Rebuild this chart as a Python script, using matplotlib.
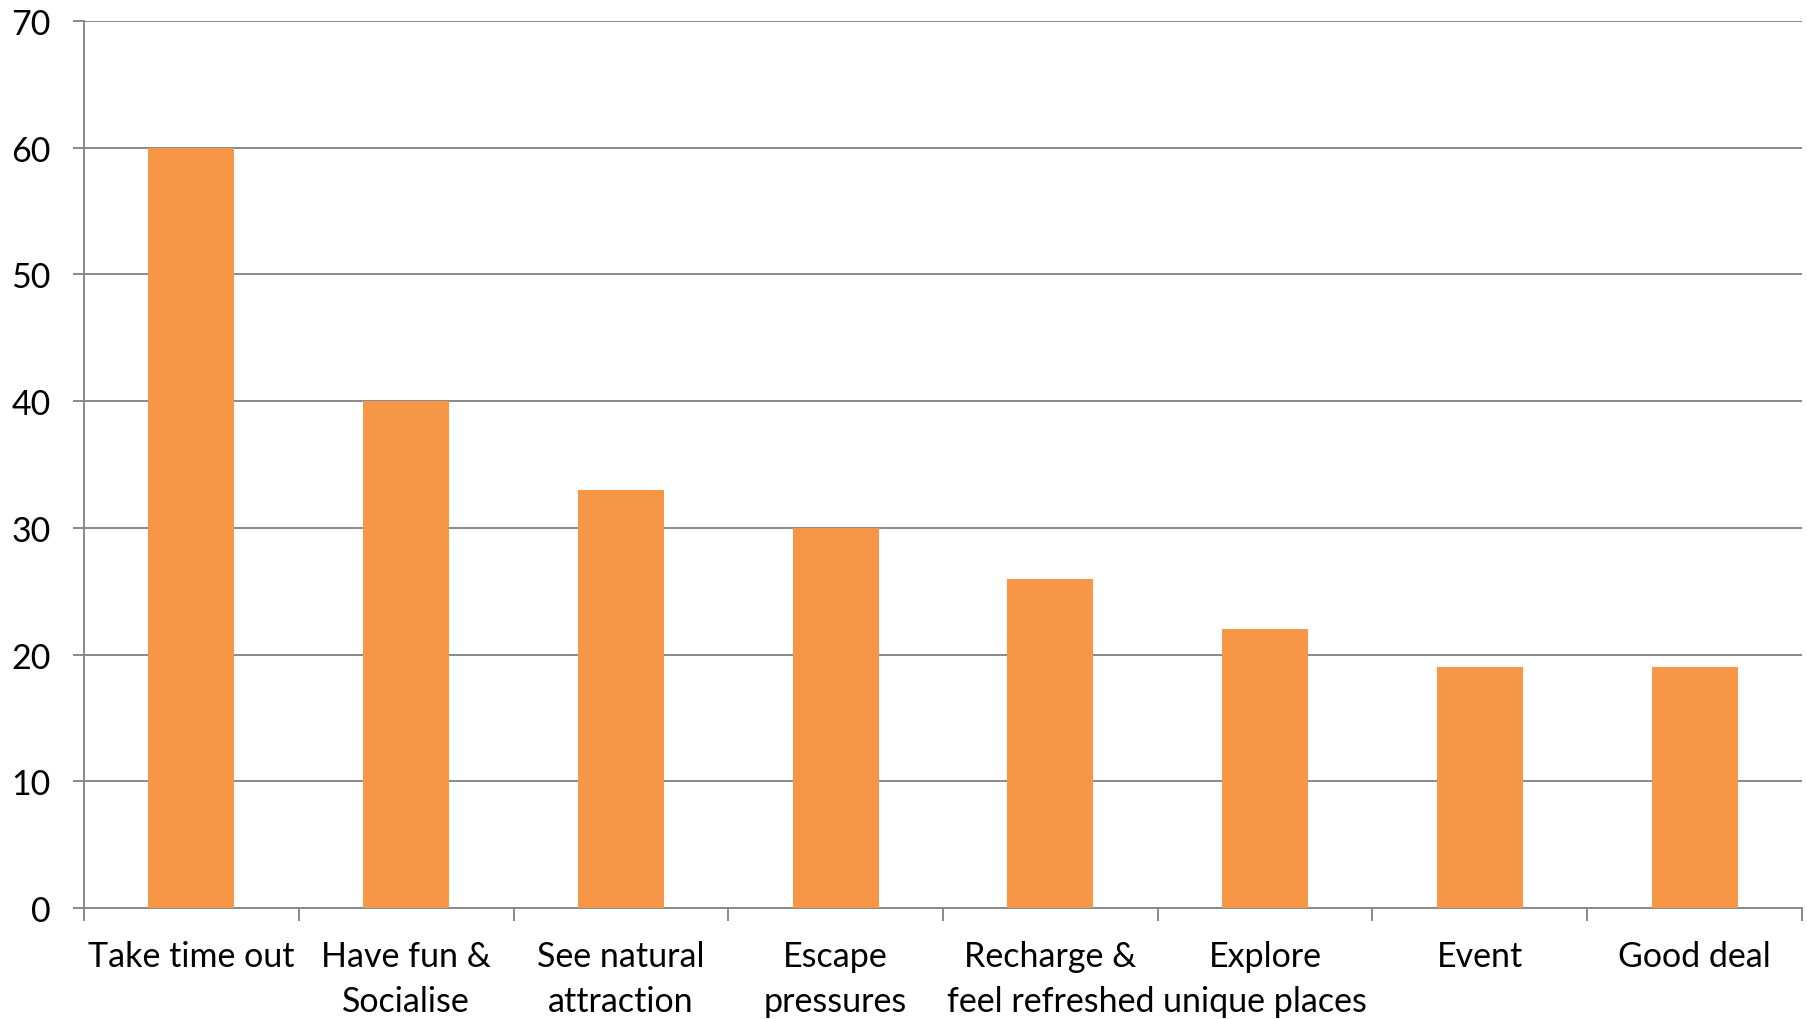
import numpy as np
import matplotlib.pyplot as plt

categories = ["Take time out", "Have fun &\nSocialise", "See natural\nattraction",
              "Escape\npressures", "Recharge &\nfeel refreshed", "Explore\nunique places",
              "Event", "Good deal"]
values = [60, 40, 33, 30, 26, 22, 19, 19]
yticks = [0, 10, 20, 30, 40, 50, 60, 70]

plt.rcParams['font.family'] = ['Lato', 'DejaVu Sans']

fig = plt.figure(figsize=(18.08, 10.2), dpi=100)
ax = fig.add_axes([84 / 1808, 1 - 909 / 1020, (1802 - 84) / 1808, (909 - 22) / 1020])

x = np.arange(len(values)) + 0.5
ax.bar(x, values, width=0.4, color='#F79646', zorder=3)

ax.set_xlim(0, len(values))
ax.set_ylim(0, 70)

# Ejes y cuadrícula en gris
grid_color = '#898989'
ax.set_yticks(yticks)
ax.yaxis.grid(True, color=grid_color, linewidth=1.4, zorder=1)
for s in ['top', 'right']:
    ax.spines[s].set_visible(False)
for s in ['left', 'bottom']:
    ax.spines[s].set_color(grid_color)
    ax.spines[s].set_linewidth(1.4)

ax.tick_params(axis='y', length=8, width=1.4, color=grid_color, pad=16, labelsize=24.5)

# Marcas en los límites de cada categoría, etiquetas en el centro
ax.set_xticks(np.arange(len(values) + 1))
ax.set_xticklabels([])
ax.set_xticks(x, minor=True)
ax.set_xticklabels(categories, minor=True, fontsize=24.5, linespacing=1.5)
ax.tick_params(axis='x', which='major', length=9, width=1.4, color=grid_color)
ax.tick_params(axis='x', which='minor', length=0, pad=23)

fig.savefig("out.png", dpi=100)
